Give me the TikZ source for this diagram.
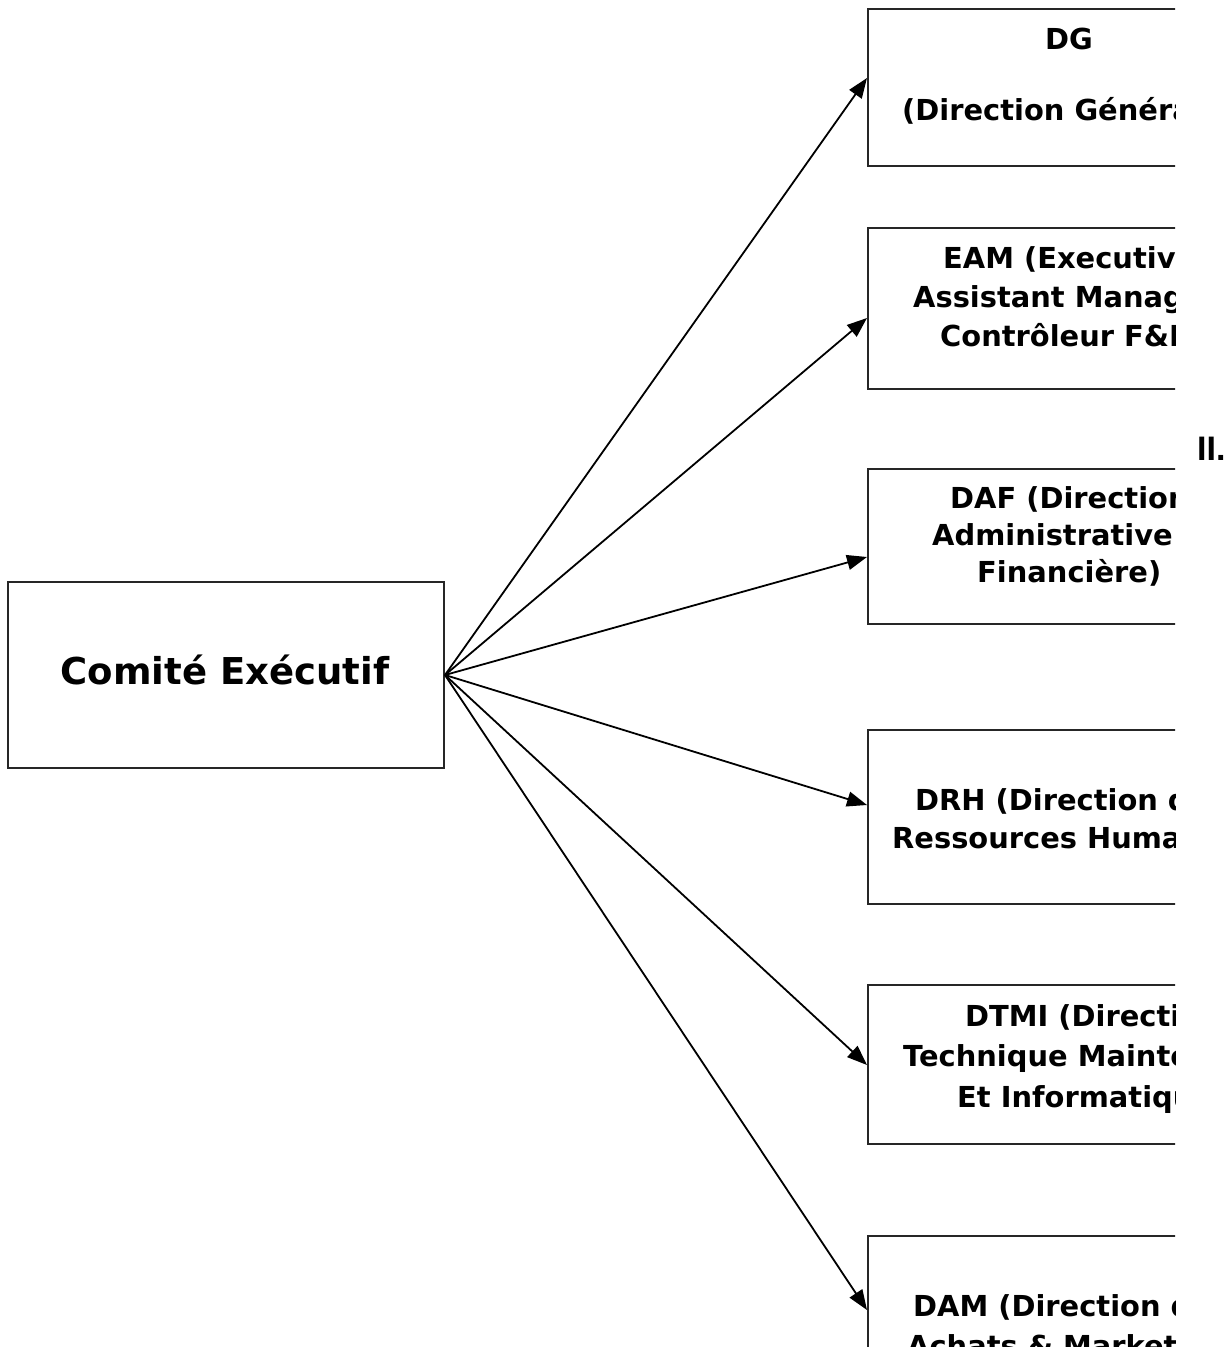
\documentclass[tikz,border=0pt]{standalone}
\usepackage{fontspec}
\setmainfont{DejaVu Sans}
\newfontfamily\arialfont{Liberation Sans}
\usetikzlibrary{arrows.meta,calc}
\begin{document}
\begin{tikzpicture}[x=1pt,y=-1pt,
  box/.style={draw=black!85,line width=2pt,rectangle,inner sep=0pt,anchor=north west},
  rbox/.style={box,minimum width=440pt},
  ltxt/.style={anchor=base west,inner sep=0pt,font=\bfseries\fontsize{28.9}{36}\selectfont},
  arr/.style={line width=1.8pt,-{Triangle[length=20pt,width=15pt]}}]
\useasboundingbox (0,0) rectangle (1231,1347);
% left box
\node[box,minimum width=436pt,minimum height=186pt] (ce) at (7,581) {};
\node[anchor=base,inner sep=0pt,font=\bfseries\fontsize{37}{44}\selectfont] (cet) at (225,684.5) {Comité Exécutif};
\begin{scope}
\clip (0,0) rectangle (1175,1347);
\node[rbox,minimum height=157pt] (dg) at (867,8) {};
\node[rbox,minimum height=161pt] (eam) at (867,227) {};
\node[rbox,minimum height=155pt] (daf) at (867,468) {};
\node[rbox,minimum height=174pt] (drh) at (867,729) {};
\node[rbox,minimum height=159pt] (dtmi) at (867,984) {};
\node[rbox,minimum height=180pt] (dam) at (867,1235) {};
\node[ltxt] (t1a) at (1045,49.5) {DG};
\node[ltxt] (t1b) at (902,120.5) {(Direction Générale)};
\node[ltxt] (t2a) at (943,268.5) {EAM (Executive};
\node[ltxt] (t2b) at (913,307.5) {Assistant Manager};
\node[ltxt] (t2c) at (940,346.5) {Contrôleur F\&B};
\node[ltxt] (t3a) at (950,508.5) {DAF (Direction};
\node[ltxt] (t3b) at (932,545.5) {Administrative et};
\node[ltxt] (t3c) at (977,582.5) {Financière)};
\node[ltxt] (t4a) at (915,810.5) {DRH (Direction des};
\node[ltxt] (t4b) at (892,848.5) {Ressources Humaines)};
\node[ltxt] (t5a) at (965,1026.5) {DTMI (Direction};
\node[ltxt] (t5b) at (903,1066.5) {Technique Maintenance};
\node[ltxt] (t5c) at (957,1107.5) {Et Informatique)};
\node[ltxt] (t6a) at (913,1316.5) {DAM (Direction des};
\node[ltxt] (t6b) at (907,1356.5) {Achats \& Marketing)};
\end{scope}
\node[anchor=base west,inner sep=0pt,font=\arialfont\bfseries\fontsize{34}{40}\selectfont] (ii) at (1197,460) {II.};
% arrows
\draw[arr] (ce.east) -- ([yshift=-70pt]dg.north west);
\draw[arr] (ce.east) -- ([yshift=-91pt]eam.north west);
\draw[arr] (ce.east) -- ([yshift=-89pt]daf.north west);
\draw[arr] (ce.east) -- ([yshift=-76pt]drh.north west);
\draw[arr] (ce.east) -- ([yshift=-81pt]dtmi.north west);
\draw[arr] (ce.east) -- ([yshift=-75pt]dam.north west);
\end{tikzpicture}
\end{document}
